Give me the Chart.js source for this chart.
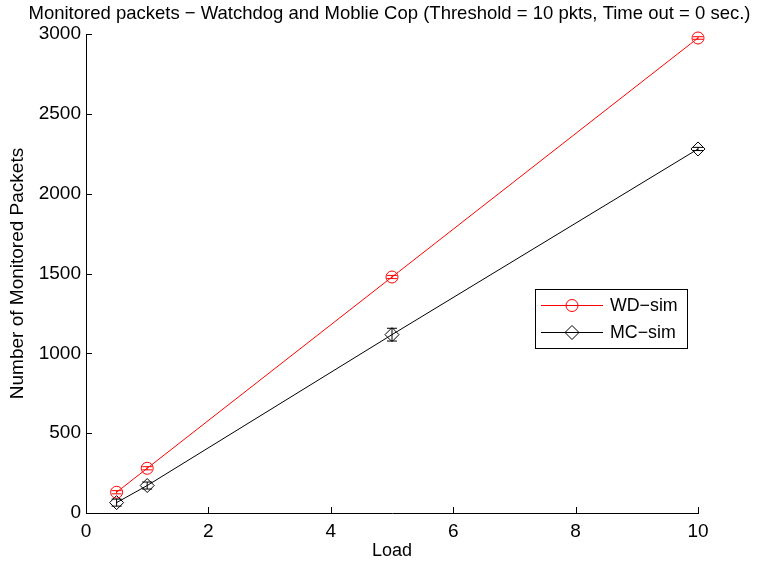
<!DOCTYPE html>
<html>
<head>
<meta charset="utf-8">
<script src="https://cdn.jsdelivr.net/npm/chart.js@4.4.0/dist/chart.umd.min.js"></script>
<style>
  html, body { margin: 0; padding: 0; background: #fff; }
  canvas { display: block; }
</style>
</head>
<body>
<canvas id="chart" width="758" height="565"></canvas>
<script>
// ---- data ----
const loads = [0.5, 1, 5, 10];
const wdSim = [130, 280, 1478, 2975];
const wdErr = [10, 10, 10, 8];
const mcSim = [65, 172, 1117, 2280];
const mcErr = [22, 22, 40, 10];
const xTicks = [0, 2, 4, 6, 8, 10];
const yTicks = [0, 500, 1000, 1500, 2000, 2500, 3000];
const titleText = 'Monitored packets \u2212 Watchdog and Moblie Cop (Threshold = 10 pkts, Time out = 0 sec.)';

const FONT = "'Liberation Sans', Arial, sans-serif";

// error bars (MATLAB errorbar style)
const errorBars = {
  id: 'errorBars',
  afterDatasetsDraw(chart) {
    const ctx = chart.ctx, xs = chart.scales.x, ys = chart.scales.y;
    chart.data.datasets.forEach(ds => {
      if (!ds.errors) return;
      ctx.save();
      ctx.strokeStyle = ds.borderColor;
      ctx.lineWidth = 1;
      ds.data.forEach((p, i) => {
        const e = ds.errors[i];
        const px = xs.getPixelForValue(p.x);
        const y1 = ys.getPixelForValue(p.y - e), y2 = ys.getPixelForValue(p.y + e);
        ctx.beginPath();
        ctx.moveTo(px, y1); ctx.lineTo(px, y2);
        ctx.moveTo(px - 5, y1); ctx.lineTo(px + 5, y1);
        ctx.moveTo(px - 5, y2); ctx.lineTo(px + 5, y2);
        ctx.stroke();
      });
      ctx.restore();
    });
  }
};

// inward ticks on the left and bottom axes, plus the title
const inwardTicks = {
  id: 'inwardTicks',
  afterDraw(chart) {
    const ctx = chart.ctx, xs = chart.scales.x, ys = chart.scales.y;
    const a = chart.chartArea;
    ctx.save();
    ctx.strokeStyle = '#000';
    ctx.lineWidth = 1;
    ctx.beginPath();
    xTicks.forEach(v => {
      const px = Math.round(xs.getPixelForValue(v)) + 0.5;
      ctx.moveTo(px, a.bottom); ctx.lineTo(px, a.bottom - 6);
    });
    yTicks.forEach(v => {
      const py = Math.round(ys.getPixelForValue(v)) + 0.5;
      ctx.moveTo(a.left, py); ctx.lineTo(a.left + 6, py);
    });
    ctx.stroke();
    ctx.fillStyle = '#000';
    ctx.font = '18.5px ' + FONT;
    ctx.textAlign = 'center';
    ctx.textBaseline = 'middle';
    ctx.fillText(titleText, 389.5, 14);
    ctx.restore();
  }
};

// boxed legend inside the axes
const boxLegend = {
  id: 'boxLegend',
  afterDraw(chart) {
    const ctx = chart.ctx;
    const bx = 535, by = 289, bw = 152, bh = 59;
    ctx.save();
    ctx.fillStyle = '#fff';
    ctx.fillRect(bx, by, bw, bh);
    ctx.strokeStyle = '#000';
    ctx.lineWidth = 1;
    ctx.strokeRect(bx + 0.5, by + 0.5, bw, bh);
    ctx.font = '17.8px ' + FONT;
    ctx.textBaseline = 'middle';
    chart.data.datasets.forEach((ds, i) => {
      const y = by + 16 + i * 27;
      ctx.strokeStyle = ds.borderColor;
      ctx.beginPath();
      ctx.moveTo(bx + 6, y + 0.5); ctx.lineTo(bx + 68, y + 0.5);
      ctx.stroke();
      ctx.fillStyle = 'rgba(0,0,0,0)';
      Chart.helpers.drawPoint(ctx, {
        pointStyle: ds.pointStyle, radius: ds.pointRadius, borderWidth: 1
      }, bx + 37, y + 0.5);
      ctx.fillStyle = '#000';
      ctx.fillText(ds.label, bx + 75, y + 1);
    });
    ctx.restore();
  }
};

new Chart(document.getElementById('chart').getContext('2d'), {
  type: 'line',
  data: {
    datasets: [
      {
        label: 'WD\u2212sim',
        data: loads.map((x, i) => ({ x, y: wdSim[i] })),
        errors: wdErr,
        borderColor: '#ff0000', backgroundColor: 'rgba(0,0,0,0)',
        borderWidth: 1, pointStyle: 'circle', pointRadius: 6,
        pointBorderColor: '#ff0000', pointBorderWidth: 1, tension: 0, clip: false
      },
      {
        label: 'MC\u2212sim',
        data: loads.map((x, i) => ({ x, y: mcSim[i] })),
        errors: mcErr,
        borderColor: '#000000', backgroundColor: 'rgba(0,0,0,0)',
        borderWidth: 1, pointStyle: 'rectRot', pointRadius: 7,
        pointBorderColor: '#000000', pointBorderWidth: 1, tension: 0, clip: false
      }
    ]
  },
  options: {
    responsive: false,
    animation: false,
    layout: { padding: { left: 0, right: 60, top: 34, bottom: 0 } },
    plugins: {
      legend: { display: false },
      tooltip: { enabled: false },
      title: { display: false }
    },
    scales: {
      x: {
        type: 'linear', min: 0, max: 10,
        afterBuildTicks: s => { s.ticks = xTicks.map(v => ({ value: v })); },
        afterFit: s => { s.height = 52; },
        grid: { display: false, drawTicks: false },
        border: { display: true, color: '#000', width: 1 },
        ticks: { color: '#000', padding: 7, font: { family: FONT, size: 19 } },
        title: { display: true, text: 'Load', color: '#000', padding: { top: 0, bottom: 3 }, font: { family: FONT, size: 18 } }
      },
      y: {
        type: 'linear', min: 0, max: 3000,
        afterBuildTicks: s => { s.ticks = yTicks.map(v => ({ value: v })); },
        afterFit: s => { s.width = 86; },
        grid: { display: false, drawTicks: false },
        border: { display: true, color: '#000', width: 1 },
        ticks: { color: '#000', padding: 5, font: { family: FONT, size: 19 }, callback: v => String(v) },
        title: { display: true, text: 'Number of Monitored Packets', color: '#000', padding: { top: 6, bottom: 0 }, font: { family: FONT, size: 19 } }
      }
    }
  },
  plugins: [errorBars, inwardTicks, boxLegend]
});
</script>
</body>
</html>
